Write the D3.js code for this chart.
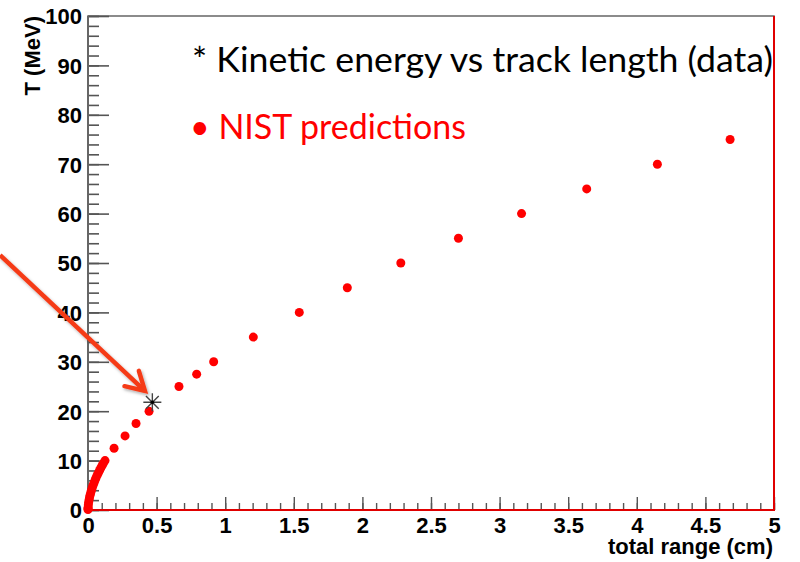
<!DOCTYPE html>
<html>
<head>
<meta charset="utf-8">
<script src="https://cdn.jsdelivr.net/npm/d3@7"></script>
<style>
  body { margin: 0; background: #fff; }
  .domain { display: none; }
</style>
</head>
<body>
<svg id="chart" width="800" height="562"></svg>
<script>
// NIST proton range predictions: total range (cm) vs kinetic energy T (MeV)
var nistRange = [0.0001, 0.0003, 0.0007, 0.0022, 0.0045, 0.0074, 0.011, 0.015, 0.020, 0.025,
                 0.031, 0.037, 0.044, 0.051, 0.058, 0.066, 0.075, 0.084, 0.093, 0.103,
                 0.113, 0.124, 0.19, 0.27, 0.35, 0.445, 0.663, 0.792, 0.916, 1.205,
                 1.54, 1.89, 2.28, 2.70, 3.16, 3.635, 4.15, 4.68];
var nistT = [0.1, 0.25, 0.5, 1, 1.5, 2, 2.5, 3, 3.5, 4,
             4.5, 5, 5.5, 6, 6.5, 7, 7.5, 8, 8.5, 9,
             9.5, 10, 12.5, 15, 17.5, 20, 25, 27.5, 30, 35,
             40, 45, 50, 55, 60, 65, 70, 75];

// measured track
var dataRange = [0.469];
var dataT = [21.8];

var xTicks = [0, 0.5, 1, 1.5, 2, 2.5, 3, 3.5, 4, 4.5, 5];
var yTicks = [0, 10, 20, 30, 40, 50, 60, 70, 80, 90, 100];

// arrow annotation, from / to in data coords
var arrowFrom = [-0.641, 51.6];
var arrowTo = [0.415, 24.1];

var padL = 88, padT = 16, padR = 774, padB = 510;
var labelFont = "'Liberation Sans', Arial, sans-serif";

var svg = d3.select("#chart");
svg.append("rect").attr("width", 800).attr("height", 562).attr("fill", "#fff");

var defs = svg.append("defs");
var f = defs.append("filter").attr("id", "shadow").attr("x", "-20%").attr("y", "-20%").attr("width", "140%").attr("height", "140%");
f.append("feDropShadow").attr("dx", 1.5).attr("dy", 2).attr("stdDeviation", 1.5)
  .attr("flood-color", "#000").attr("flood-opacity", 0.3);

var x = d3.scaleLinear().domain([0, 5]).range([padL, padR]);
var y = d3.scaleLinear().domain([0, 100]).range([padB, padT]);

// frame
svg.append("rect")
  .attr("x", padL).attr("y", padT)
  .attr("width", padR - padL).attr("height", padB - padT)
  .attr("fill", "none").attr("stroke", "#666").attr("stroke-width", 1.5);

// y axis: minor then major ticks pointing inward
svg.append("g").attr("transform", "translate(" + padL + ",0)")
  .call(d3.axisLeft(y).tickValues(d3.range(0, 101, 2)).tickSize(-11).tickFormat(""))
  .selectAll("line").attr("stroke", "#555").attr("stroke-width", 1.6);
var ya = svg.append("g").attr("transform", "translate(" + padL + ",0)")
  .call(d3.axisLeft(y).tickValues(yTicks).tickSize(-21).tickPadding(6));
ya.selectAll("line").attr("stroke", "#555").attr("stroke-width", 1.6);
ya.selectAll("text")
  .attr("dy", "0.36em")
  .style("font-family", labelFont).style("font-weight", "bold").style("font-size", "22px").attr("fill", "#000");

// x axis
svg.append("g").attr("transform", "translate(0," + padB + ")")
  .call(d3.axisBottom(x).tickValues(d3.range(0, 5.001, 0.1)).tickSize(-7).tickFormat(""))
  .selectAll("line").attr("stroke", "#555").attr("stroke-width", 1.4);
var xa = svg.append("g").attr("transform", "translate(0," + padB + ")")
  .call(d3.axisBottom(x).tickValues(xTicks).tickSize(-13).tickFormat(d3.format("")));
xa.selectAll("line").attr("stroke", "#555").attr("stroke-width", 1.4);
xa.selectAll("text")
  .attr("y", 23).attr("dy", null)
  .style("font-family", labelFont).style("font-weight", "bold").style("font-size", "22px").attr("fill", "#000");

// left axis line
svg.append("line").attr("x1", padL).attr("x2", padL).attr("y1", padT).attr("y2", padB)
  .attr("stroke", "#666").attr("stroke-width", 2);

// red bottom and right edges
svg.append("path")
  .attr("d", "M" + padL + "," + padB + "H" + padR + "V" + padT)
  .attr("fill", "none").attr("stroke", "#e00000").attr("stroke-width", 2);

// axis titles
svg.append("text")
  .attr("transform", "translate(40," + padT + ") rotate(-90)")
  .attr("text-anchor", "end")
  .style("font-family", labelFont)
  .style("font-weight", "bold").style("font-size", "22px")
  .text("T (MeV)");
svg.append("text")
  .attr("x", padR - 1).attr("y", 554)
  .attr("text-anchor", "end")
  .style("font-family", labelFont)
  .style("font-weight", "bold").style("font-size", "22px")
  .text("total range (cm)");

// NIST points
svg.append("g").selectAll("circle")
  .data(nistT)
  .enter().append("circle")
  .attr("cx", function(d, i) { return x(nistRange[i]); })
  .attr("cy", function(d) { return y(d); })
  .attr("r", 4.5)
  .attr("fill", "#ff0000");

// data point (asterisk marker)
var star = svg.append("g").selectAll("g")
  .data(dataT)
  .enter().append("g")
  .attr("transform", function(d, i) { return "translate(" + x(dataRange[i]) + "," + y(d) + ")"; });
star.append("path")
  .attr("d", "M-9,0H9M0,-9V9M-6.4,-6.4L6.4,6.4M-6.4,6.4L6.4,-6.4")
  .attr("stroke", "#444").attr("stroke-width", 1.4);
star.append("circle").attr("r", 1.8).attr("fill", "#000");

// arrow
var ax0 = x(arrowFrom[0]), ay0 = y(arrowFrom[1]), ax1 = x(arrowTo[0]), ay1 = y(arrowTo[1]);
var ang = Math.atan2(ay1 - ay0, ax1 - ax0);
var headLen = 21, spread = Math.PI / 6;
var arm = function(s) {
  return [ax1 - headLen * Math.cos(ang + s), ay1 - headLen * Math.sin(ang + s)];
};
var a1 = arm(spread), a2 = arm(-spread);
var arrow = svg.append("g").attr("filter", "url(#shadow)");
arrow.append("line").attr("x1", ax0).attr("y1", ay0).attr("x2", ax1 - 2 * Math.cos(ang)).attr("y2", ay1 - 2 * Math.sin(ang))
  .attr("stroke", "#f53a18").attr("stroke-width", 4.5);
arrow.append("path")
  .attr("d", "M" + a1[0] + "," + a1[1] + "L" + ax1 + "," + ay1 + "L" + a2[0] + "," + a2[1])
  .attr("fill", "none").attr("stroke", "#f53a18").attr("stroke-width", 4.5)
  .attr("stroke-linejoin", "miter").attr("stroke-linecap", "round");

// legend text
svg.append("text")
  .attr("x", 192).attr("y", 72)
  .attr("textLength", 581).attr("lengthAdjust", "spacingAndGlyphs")
  .style("font-family", "Lato, 'Open Sans', sans-serif").style("font-size", "34px")
  .attr("fill", "#000")
  .text("* Kinetic energy vs track length (data)");
svg.append("text")
  .attr("x", 190).attr("y", 139)
  .attr("textLength", 276).attr("lengthAdjust", "spacingAndGlyphs")
  .style("font-family", "Lato, 'Open Sans', sans-serif").style("font-size", "34px")
  .attr("fill", "#ff0000")
  .text("\u2022 NIST predictions");
</script>
</body>
</html>
